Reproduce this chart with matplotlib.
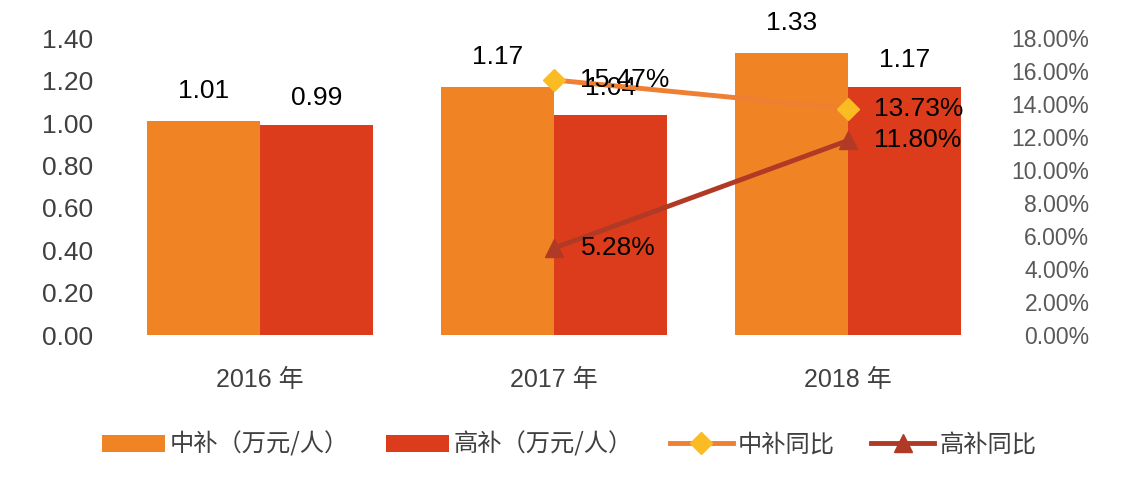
import matplotlib
matplotlib.use("Agg")
import matplotlib.pyplot as plt
import numpy as np

plt.rcParams["font.family"] = ["Liberation Sans", "Noto Sans CJK SC", "DejaVu Sans"]

years = ["2016 年", "2017 年", "2018 年"]
mid_sub = [1.01, 1.17, 1.33]
high_sub = [0.99, 1.04, 1.17]
mid_yoy_years = [1, 2]
mid_yoy = [15.47, 13.73]
high_yoy = [5.28, 11.80]

ORANGE = "#F08323"
RED = "#DC3C1C"
LINE_OR = "#EE7F33"
GOLD = "#FBBB23"
DARK_RED = "#B03A25"
TICK = "#595959"

fig = plt.figure(figsize=(11.27, 4.9), dpi=100)
ax = fig.add_axes([0.1003, 0.316, 0.7826, 0.606])
x = np.arange(len(years))
w = 0.385

b1 = ax.bar(x - w / 2, mid_sub, w, color=ORANGE, label="中补（万元/人）", zorder=2)
b2 = ax.bar(x + w / 2, high_sub, w, color=RED, label="高补（万元/人）", zorder=2)
for xi, v in zip(x, mid_sub):
    ax.text(xi - w / 2, v + 0.085, f"{v:.2f}", ha="center", va="bottom", fontsize=19)
for xi, v in zip(x, high_sub):
    ax.text(xi + w / 2, v + 0.07, f"{v:.2f}", ha="center", va="bottom", fontsize=19)

ax.set_xlim(-0.5, 2.5)
ax.set_ylim(0, 1.4)
ax.set_yticks(np.arange(0, 1.41, 0.2))
ax.set_yticklabels([f"{t:.2f}" for t in np.arange(0, 1.41, 0.2)], fontsize=19, color="#404040")
ax.set_xticks(x)
ax.set_xticklabels(years, fontsize=18, color="#404040", family=["Liberation Sans", "Noto Sans CJK SC"])
ax.tick_params(axis="y", length=0, pad=14)
ax.tick_params(axis="x", length=0, pad=24)
for s in ax.spines.values():
    s.set_visible(False)

ax2 = ax.twinx()
ax2.set_ylim(0, 18)
ax2.set_yticks(np.arange(0, 18.1, 2))
ax2.set_yticklabels([f"{t:.2f}%" for t in np.arange(0, 18.1, 2)], fontsize=16.5, color=TICK, ha="right")
ax2.tick_params(length=0, pad=68)
for s in ax2.spines.values():
    s.set_visible(False)

l1, = ax2.plot(mid_yoy_years, mid_yoy, color=LINE_OR, lw=3.5, marker="D", markersize=11,
               markerfacecolor=GOLD, markeredgecolor=GOLD, label="中补同比", zorder=3)
l2, = ax2.plot(mid_yoy_years, high_yoy, color=DARK_RED, lw=3.5, marker="^", markersize=13,
               markerfacecolor=DARK_RED, markeredgecolor=DARK_RED, label="高补同比", zorder=3)
for xi, v in zip(mid_yoy_years, mid_yoy):
    ax2.text(xi + 0.09, v, f"{v:.2f}%", ha="left", va="center", fontsize=19)
for xi, v in zip(mid_yoy_years, high_yoy):
    ax2.text(xi + 0.09, v, f"{v:.2f}%", ha="left", va="center", fontsize=19)

leg = fig.legend(handles=[b1, b2, l1, l2], loc="center", bbox_to_anchor=(0.505, 0.092),
                 ncol=4, frameon=False, handlelength=2.6, handletextpad=0.2, columnspacing=1.5,
                 prop={"family": ["Noto Sans CJK SC"], "size": 17.5})
for t in leg.get_texts():
    t.set_color("#404040")

fig.savefig("out.png", dpi=100)
